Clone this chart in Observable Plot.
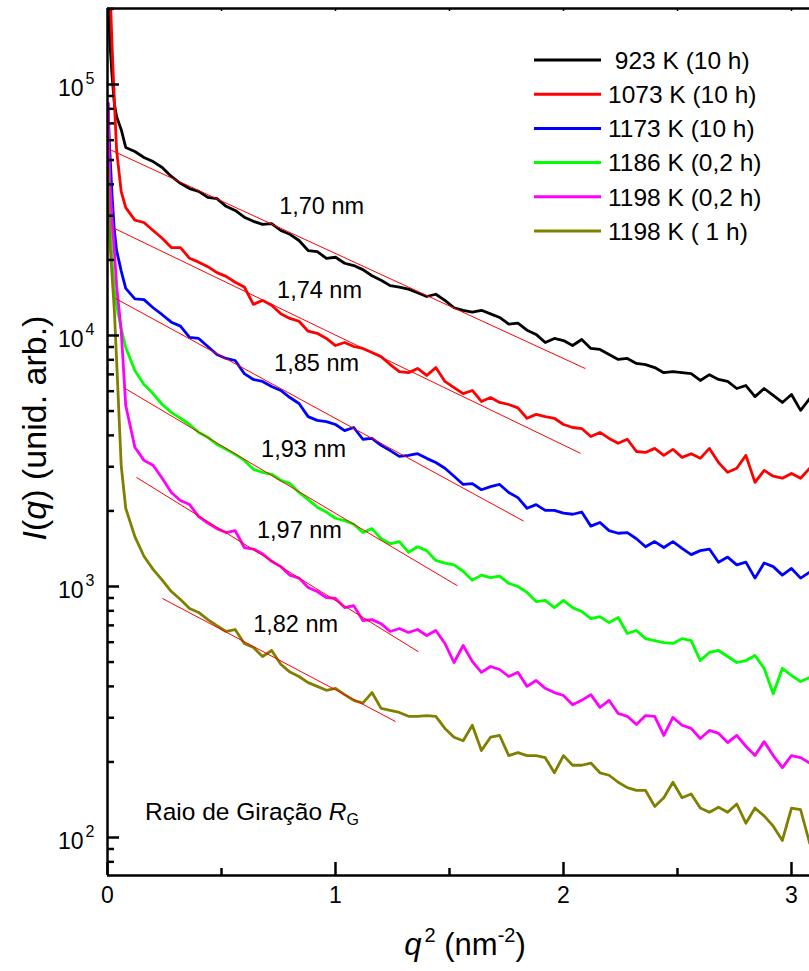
<!DOCTYPE html>
<html>
<head>
<meta charset="utf-8">
<script src="https://cdn.jsdelivr.net/npm/d3@7"></script>
<script src="https://cdn.jsdelivr.net/npm/@observablehq/plot@0.6"></script>
<style>
  html, body { margin: 0; padding: 0; background: #fff; }
  svg { display: block; }
</style>
</head>
<body>
<div id="chart"></div>
<script>
// ---------------- DATA ----------------
const q2 = [0.003, 0.005, 0.01, 0.02, 0.03, 0.04, 0.06, 0.08, 0.12, 0.16, 0.2, 0.24, 0.28, 0.32, 0.36, 0.4,
  0.44, 0.48, 0.52, 0.56, 0.6, 0.64, 0.68, 0.72, 0.76, 0.8, 0.84, 0.88, 0.92, 0.96, 1.0,
  1.04, 1.08, 1.12, 1.16, 1.2, 1.24, 1.28, 1.32, 1.36, 1.4, 1.44, 1.48, 1.52, 1.56, 1.6,
  1.64, 1.68, 1.72, 1.76, 1.8, 1.84, 1.88, 1.92, 1.96, 2.0, 2.04, 2.08, 2.12, 2.16, 2.2,
  2.24, 2.28, 2.32, 2.36, 2.4, 2.44, 2.48, 2.52, 2.56, 2.6, 2.64, 2.68, 2.72, 2.76, 2.8,
  2.84, 2.88, 2.92, 2.96, 3.0, 3.04, 3.08];

const legendLabels = ["\u00a0923 K (10 h)", "1073 K (10 h)", "1173 K (10 h)", "1186 K (0,2 h)", "1198 K (0,2 h)", "1198 K ( 1 h)"];
const colors = ["#000000", "#ff0000", "#0000ff", "#00ff00", "#ff00ff", "#808000"];

const i923 = [260000, 210000, 149000, 108600, 84000, 74400, 66200, 56100, 54100, 51200, 49300, 46700, 43000, 40400, 38500, 37500,
  35500, 35100, 32700, 31500, 29600, 28500, 27700, 27900, 26200, 25300,
  23900, 21800, 21600, 20300, 20500, 19400, 19000, 18300, 17300, 16600,
  15800, 15600, 15300, 14800, 14300, 14600, 13800, 12900, 12600, 12400,
  12600, 12200, 11800, 11100, 11200, 10500, 10100, 9380, 9730, 9550,
  9120, 9640, 8880, 8800, 8400, 8030, 8100, 7740, 7660, 7450,
  7110, 7180, 7110, 7050, 6620, 6980, 6680, 6560, 6150, 6320,
  5710, 6150, 5770, 5410, 5820, 5030, 5610];

const i1073 = [500000, 350000, 259000, 143000, 86000, 54600, 37500, 32300, 28800, 28200, 26200, 24400, 22400, 22400, 20300, 19600,
  18800, 17800, 17200, 16300, 15600, 13300, 13800, 13200, 12200, 11700,
  11400, 10400, 10200, 9730, 9120, 9380, 9040, 8880, 8550, 8240,
  7660, 7180, 7110, 7390, 6930, 7450, 6560, 6200, 5870, 6040,
  5460, 5660, 5410, 5310, 5150, 4680, 4850, 4750, 4680, 4420,
  4300, 4260, 3960, 4110, 3890, 3720, 3860, 3450, 3420, 3550,
  3330, 3520, 3270, 3380, 3240, 3550, 3120, 2850, 2960, 3330,
  2600, 2900, 2750, 2700, 2820, 2700, 2960];

const i1173 = [84000, 70000, 54600, 36100, 26200, 21800, 18100, 15400, 14000, 13900, 12900, 12100, 11300, 10900, 9820, 9730,
  9040, 8400, 8100, 7950, 7050, 6680, 6560, 6260, 6040, 5660,
  5360, 4750, 4590, 4540, 4420, 4180, 4300, 3860, 3890, 3650,
  3480, 3300, 3330, 3380, 3240, 3120, 2960, 2750, 2550, 2570,
  2430, 2500, 2550, 2370, 2260, 2050, 2120, 2010, 2010, 1960,
  1940, 1980, 1740, 1800, 1670, 1630, 1640, 1550, 1440, 1510,
  1430, 1510, 1420, 1340, 1390, 1410, 1250, 1310, 1220, 1250,
  1080, 1240, 1200, 1110, 1180, 1080, 1140];

const i1186 = [47600, 39600, 30100, 19900, 15100, 13200, 10650, 8960, 7250, 6380, 5870, 5310, 4940, 4680, 4420, 4110,
  3930, 3680, 3520, 3360, 3180, 2930, 2850, 2800, 2650, 2570,
  2370, 2220, 2070, 1980, 1870, 1830, 1770, 1640, 1700, 1550,
  1480, 1510, 1370, 1440, 1390, 1270, 1240, 1220, 1150, 1060,
  1110, 1085, 1100, 1030, 1000, 947, 871, 880, 824, 880,
  824, 795, 745, 759, 718, 752, 650, 668, 620, 609,
  598, 593, 620, 609, 507, 546, 556, 526, 498, 507,
  531, 472, 374, 472, 442, 418, 434];

const i1198a = [84000, 59800, 41500, 28800, 21800, 15800, 10500, 5260, 3590, 3180, 3040, 2700, 2370, 2200, 2120, 1900,
  1790, 1700, 1640, 1670, 1430, 1410, 1350, 1260, 1200, 1110,
  1080, 991, 955, 904, 896, 824, 839, 732, 738, 711,
  662, 680, 656, 674, 638, 668, 593, 498, 582, 503,
  455, 480, 467, 438, 455, 400, 422, 393, 378, 368,
  338, 352, 371, 330, 352, 312, 304, 282, 306, 304,
  255, 301, 280, 272, 248, 267, 260, 239, 255, 231,
  212, 241, 212, 190, 212, 208, 198];

const i1198b = [46700, 34500, 23900, 17300, 12600, 7950, 3040, 2050, 1580, 1320, 1170, 1060, 955, 888, 817, 788,
  738, 698, 662, 674, 593, 571, 526, 556, 490, 456,
  438, 414, 400, 386, 393, 371, 352, 343, 378, 327,
  321, 315, 304, 304, 306, 304, 272, 251, 243, 280,
  222, 251, 255, 212, 218, 212, 212, 208, 181, 212,
  194, 194, 198, 181, 177, 166, 158, 154, 154, 133,
  144, 166, 144, 149, 131, 126, 132, 126, 136, 114,
  131, 122, 111, 97.3, 131, 129, 94.7];

const seriesValues = [i923, i1073, i1173, i1186, i1198a, i1198b];

// Guinier fits (radius of gyration in nm)
const fitLabels = ["1,70 nm", "1,74 nm", "1,85 nm", "1,93 nm", "1,97 nm", "1,82 nm"];
const fitRg = [1.70, 1.74, 1.85, 1.93, 1.97, 1.82];
const fitI0 = [55600, 27540, 14620, 6770, 3206, 1169];
const fitStart = [0, 0.022, 0.035, 0.070, 0.127, 0.241];
const fitEnd = [2.096, 2.075, 1.825, 1.535, 1.364, 1.263];
const labelQ2 = [0.939, 0.930, 0.917, 0.860, 0.842, 0.825];
const labelI = [32660, 15100, 7735, 3514, 1672, 706];

// axis ticks
const xMajor = [0, 1, 2, 3];
const xMinor = [0.5, 1.5, 2.5];
const xTop = [0.5, 1, 1.5, 2, 2.5, 3];
const yMajor = [100, 1000, 10000, 100000];
const yExponents = ["2", "3", "4", "5"];
const yMinorMultipliers = [2, 3, 4, 5, 6, 7, 8, 9];

// ---------------- LAYOUT ----------------
const W = 809, H = 971;
const mL = 107, mR = 0, mT = 8, mB = 96;
const pw = W - mL - mR, ph = H - mT - mB;
const xDomain = [0, 3.079];
const yDomain = [70.57, 200800];
const FONT = "'Liberation Sans', Arial, Helvetica, sans-serif";

const yMinor = [10, 100, 1000, 10000, 100000]
  .flatMap(d => yMinorMultipliers.map(m => d * m))
  .filter(v => v > yDomain[0] && v < yDomain[1]);

const lineData = seriesValues.map((vals, s) => q2.map((x, i) => ({x, y: vals[i], s})));
const fits = fitRg.map((rg, i) => ({
  x1: fitStart[i], y1: fitI0[i] * Math.exp(-rg * rg * fitStart[i] / 3),
  x2: fitEnd[i], y2: fitI0[i] * Math.exp(-rg * rg * fitEnd[i] / 3)
}));
const labels = fitLabels.map((t, i) => ({t, x: labelQ2[i], y: labelI[i]}));

const marks = [];
lineData.forEach((d, s) => {
  marks.push(Plot.line(d, {x: "x", y: "y", stroke: colors[s], strokeWidth: 2.8, strokeLinejoin: "round", clip: true}));
});
marks.push(
  Plot.link(fits, {x1: "x1", y1: "y1", x2: "x2", y2: "y2", stroke: "#ff0000", strokeWidth: 1}),
  Plot.text(labels, {x: "x", y: "y", text: "t", fontSize: 23.5, fill: "#000"}),
  // axes lines
  Plot.ruleX([0], {stroke: "#000", strokeWidth: 2.5}),
  Plot.ruleY([yDomain[0]], {stroke: "#000", strokeWidth: 2.5}),
  Plot.ruleY([yDomain[1]], {stroke: "#000", strokeWidth: 2.5}),
  // inward ticks
  Plot.tickY(yMajor, {y: d => d, stroke: "#000", strokeWidth: 2.5, insetRight: pw - 12}),
  Plot.tickY(yMinor, {y: d => d, stroke: "#000", strokeWidth: 2.5, insetRight: pw - 7}),
  Plot.tickX(xMajor, {x: d => d, stroke: "#000", strokeWidth: 2.5, insetTop: ph - 13}),
  Plot.tickX(xMinor, {x: d => d, stroke: "#000", strokeWidth: 2.5, insetTop: ph - 7}),
  Plot.tickX(xTop, {x: d => d, stroke: "#000", strokeWidth: 1.5, insetBottom: ph - 3}),
  // tick labels
  Plot.text(xMajor, {x: d => d, text: d => String(d), frameAnchor: "bottom", dy: 27, fontSize: 23, fill: "#000"}),
  Plot.text(yMajor, {y: d => d, text: () => "10", frameAnchor: "left", textAnchor: "end", dx: -24, dy: 4, fontSize: 23, fill: "#000"}),
  Plot.text(yMajor, {y: d => d, text: (d, i) => yExponents[i], frameAnchor: "left", textAnchor: "start", dx: -22, dy: -6, fontSize: 16, fill: "#000"})
);

const plot = Plot.plot({
  width: W, height: H,
  marginLeft: mL, marginRight: mR, marginTop: mT, marginBottom: mB,
  x: {domain: xDomain, axis: null},
  y: {type: "log", domain: yDomain, axis: null},
  style: {fontFamily: FONT, background: "#fff", color: "#000"},
  marks
});

// ---------- annotations: legend, titles ----------
const svg = d3.select(plot);
const lg = svg.append("g").attr("font-family", FONT).attr("font-size", 24.5).attr("fill", "#000")
  .attr("text-anchor", "start");
legendLabels.forEach((s, i) => {
  const y = 60 + 34.2 * i;
  lg.append("line").attr("x1", 534).attr("x2", 601).attr("y1", y).attr("y2", y)
    .attr("stroke", colors[i]).attr("stroke-width", 3);
  lg.append("text").attr("x", 608).attr("y", y).attr("dy", "0.36em").text(s);
});

const yt = svg.append("text").attr("font-family", FONT).attr("font-size", 34).attr("fill", "#000")
  .attr("text-anchor", "middle").attr("transform", "translate(46,428) rotate(-90)");
yt.append("tspan").attr("font-style", "italic").text("I");
yt.append("tspan").text("(");
yt.append("tspan").attr("font-style", "italic").text("q");
yt.append("tspan").text(") (unid. arb.)");

const xt = svg.append("text").attr("font-family", FONT).attr("font-size", 31).attr("fill", "#000")
  .attr("text-anchor", "middle").attr("x", 465).attr("y", 955);
xt.append("tspan").attr("font-style", "italic").text("q");
xt.append("tspan").attr("font-size", 20).attr("dy", -13).attr("dx", 3).text("2");
xt.append("tspan").attr("dy", 13).text(" (nm");
xt.append("tspan").attr("font-size", 20).attr("dy", -13).text("-2");
xt.append("tspan").attr("dy", 13).text(")");

const rg = svg.append("text").attr("font-family", FONT).attr("font-size", 24.5).attr("fill", "#000")
  .attr("text-anchor", "start").attr("x", 145).attr("y", 820);
rg.append("tspan").text("Raio de Giração ");
rg.append("tspan").attr("font-style", "italic").text("R");
rg.append("tspan").attr("font-size", 16).attr("dy", 5).text("G");

document.getElementById("chart").appendChild(plot);
</script>
</body>
</html>
